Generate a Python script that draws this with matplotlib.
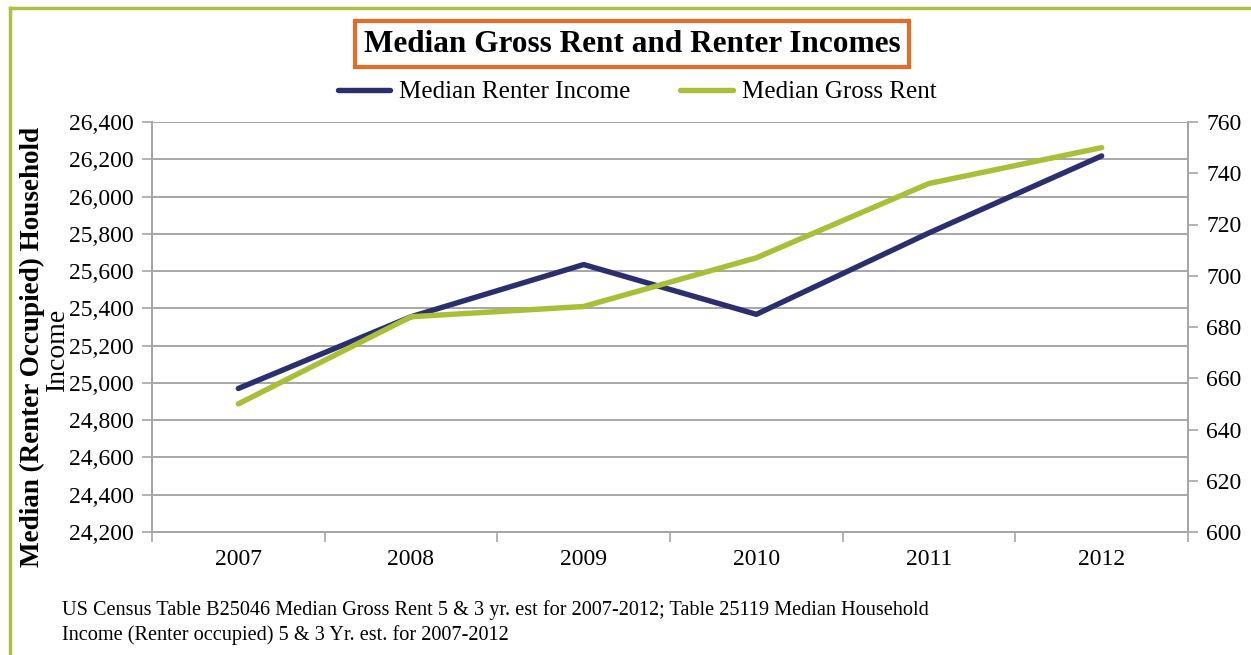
import matplotlib.pyplot as plt
from matplotlib.lines import Line2D
from matplotlib.ticker import FuncFormatter, FixedLocator

years = ['2007', '2008', '2009', '2010', '2011', '2012']
renter_income = [24970, 25355, 25635, 25368, 25805, 26218]
gross_rent = [650, 684, 688, 707, 736, 750]

navy = '#2b2e6f'
lime = '#a9bf37'
grid_gray = '#a6a6a6'
serif = ['Liberation Serif', 'DejaVu Serif']

plt.rcParams['font.family'] = serif

fig = plt.figure(figsize=(12.51, 6.55), dpi=100)
ax = fig.add_axes([152 / 1251, 1 - 532 / 655, (1188 - 152) / 1251, (532 - 122) / 655])
ax2 = ax.twinx()

x = list(range(len(years)))
ax.plot(x, renter_income, color=navy, lw=3.9, solid_capstyle='round', zorder=3)
ax2.plot(x, gross_rent, color=lime, lw=3.9, solid_capstyle='round', zorder=3)

ax.set_xlim(-0.5, len(years) - 0.5)
ax.set_ylim(24200, 26400)
ax.set_yticks(range(24200, 26401, 200))
ax.yaxis.set_major_formatter(FuncFormatter(lambda v, p: f'{int(v):,}'))
ax2.set_ylim(600, 760)
ax2.set_yticks(range(600, 761, 20))

ax.grid(axis='y', color=grid_gray, lw=1.4)
ax.set_axisbelow(True)

# category boundaries get tick marks, labels sit in the middle
ax.xaxis.set_major_locator(FixedLocator([i - 0.5 for i in range(len(years) + 1)]))
ax.set_xticklabels([])
ax.set_xticks(x, minor=True)
ax.set_xticklabels(years, minor=True)
ax.tick_params(axis='x', which='major', length=7, color=grid_gray, width=1.2)
ax.tick_params(axis='x', which='minor', length=0, labelsize=17, pad=12)
ax.tick_params(axis='y', length=7, color=grid_gray, width=1.2, labelsize=17, pad=6)
ax2.tick_params(axis='y', length=7, color=grid_gray, width=1.2, labelsize=17, pad=6)

for a in (ax, ax2):
    a.spines['top'].set_visible(False)
    for side in ('left', 'right', 'bottom'):
        a.spines[side].set_color(grid_gray)
        a.spines[side].set_linewidth(1.4)

# y label, two lines, second one overlapping the tick labels like the original
fig.text(32 / 1251, 1 - 347 / 655, 'Median (Renter Occupied) Household', rotation=90,
         ha='center', va='center', fontsize=19.5, fontweight='bold')
fig.text(57 / 1251, 1 - 349 / 655, 'Income', rotation=90,
         ha='center', va='center', fontsize=20)

# title in an orange box
fig.text(632 / 1251, 1 - 44 / 655, 'Median Gross Rent and Renter Incomes',
         ha='center', va='center', fontsize=22.5, fontweight='bold',
         bbox=dict(boxstyle='square,pad=0.28', fc='white', ec='#e36c27', lw=3))

handles = [Line2D([], [], color=navy, lw=3.9, solid_capstyle='round'),
           Line2D([], [], color=lime, lw=3.9, solid_capstyle='round')]
fig.legend(handles, ['Median Renter Income', 'Median Gross Rent'], ncol=2,
           loc='center', bbox_to_anchor=(637 / 1251, 1 - 92 / 655), frameon=False,
           fontsize=18, handlelength=2.1, handletextpad=0.35, columnspacing=2.0)

fig.text(62 / 1251, 1 - 610 / 655,
         'US Census Table B25046 Median Gross Rent 5 & 3 yr. est for 2007-2012; Table 25119 Median Household',
         ha='left', va='center', fontsize=14.6)
fig.text(62 / 1251, 1 - 635 / 655,
         'Income (Renter occupied) 5 & 3 Yr. est. for 2007-2012',
         ha='left', va='center', fontsize=14.6)

# green frame on left and top
fig.add_artist(Line2D([10 / 1251, 10 / 1251], [0, 1 - 8 / 655], color='#a9c23f', lw=2.5,
                      transform=fig.transFigure))
fig.add_artist(Line2D([10 / 1251, 1], [1 - 8 / 655, 1 - 8 / 655], color='#a9c23f', lw=2.5,
                      transform=fig.transFigure))

fig.savefig('out.png', dpi=100)
